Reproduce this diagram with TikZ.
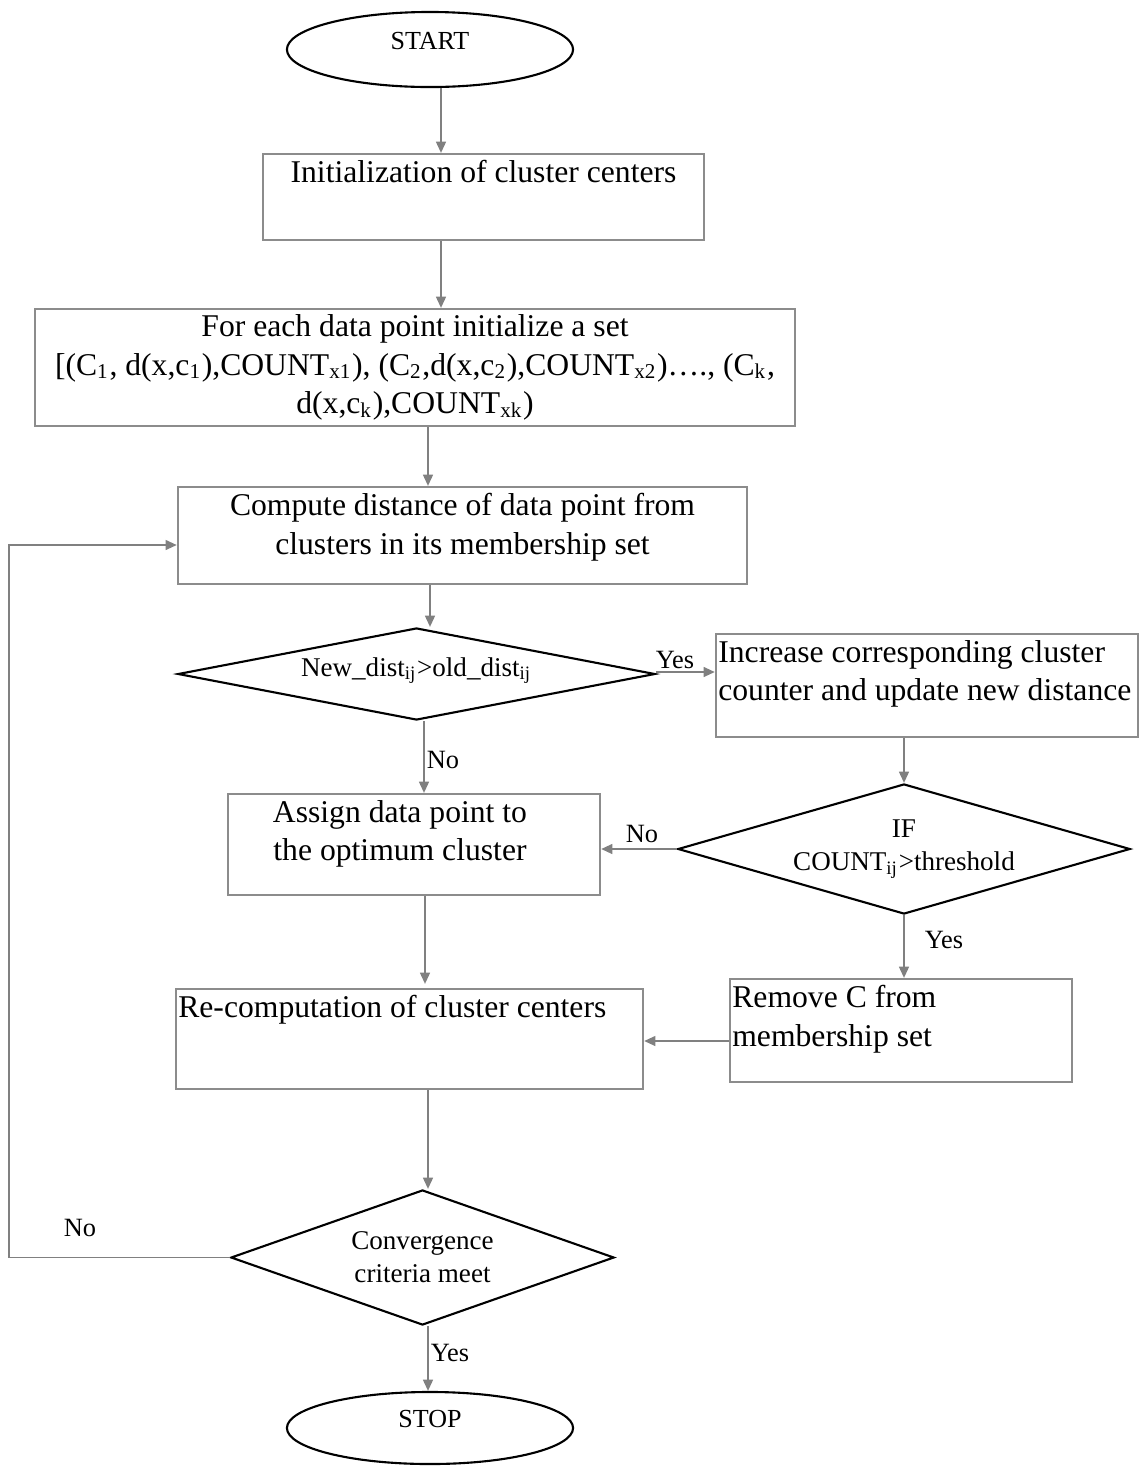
\documentclass[tikz,border=0pt]{standalone}
\usepackage{fontspec}
\setmainfont{Liberation Serif}
\usetikzlibrary{shapes.geometric,arrows.meta}
\begin{document}
\begin{tikzpicture}[x=0.01cm,y=-0.01cm,
    >={Triangle[length=3.2pt,width=2.8pt]},
    flow/.style={->,draw=black!50,line width=0.55pt},
    procbox/.style={rectangle,draw=black!45,line width=0.6pt,inner sep=0pt},
    term/.style={ellipse,draw=black,line width=0.6pt,inner sep=0pt,
        font=\fontsize{7.4}{9}\selectfont},
    decide/.style={diamond,draw=black,line width=0.6pt,inner sep=0pt,align=center,
        font=\fontsize{7.7}{9.4}\selectfont},
    txt/.style={font=\fontsize{9}{10.9}\selectfont,align=center,inner sep=2pt},
    lefttxt/.style={font=\fontsize{9}{10.9}\selectfont,align=left,inner xsep=0.8pt,inner ysep=2pt},
    lbl/.style={font=\fontsize{7.5}{9}\selectfont,inner sep=0pt}]
    % Page frame
    \useasboundingbox (0,0) rectangle (1139,1466);
    % Terminals
    \node[term,minimum width=2.86cm,minimum height=0.75cm,text depth=5pt] (start) at (430,49.5) {START};
    \node[term,minimum width=2.86cm,minimum height=0.72cm,text depth=5pt] (stop) at (430,1428) {STOP};
    % Process boxes
    \node[procbox,minimum width=4.41cm,minimum height=0.86cm,
        label={[txt,anchor=north]north:{Initialization of cluster centers}}] (init) at (483.5,197) {};
    \node[procbox,txt,inner sep=0pt,minimum width=7.6cm,minimum height=1.17cm] (memset) at (415,367.5)
        {For each data point initialize a set\\
        {[}(C\textsubscript{1}, d(x,c\textsubscript{1}),COUNT\textsubscript{x1}), (C\textsubscript{2},d(x,c\textsubscript{2}),COUNT\textsubscript{x2})…., (C\textsubscript{k},\\
        d(x,c\textsubscript{k}),COUNT\textsubscript{xk})};
    \node[procbox,minimum width=5.69cm,minimum height=0.97cm,
        label={[txt,anchor=north]north:{Compute distance of data point from\\clusters in its membership set}}] (dist) at (462.5,535.5) {};
    \node[procbox,minimum width=4.22cm,minimum height=1.03cm,
        label={[lefttxt,anchor=north west]north west:{Increase corresponding cluster\\counter and update new distance}}] (incr) at (927,685.5) {};
    \node[procbox,minimum width=3.72cm,minimum height=1.01cm,
        label={[txt,anchor=north,xshift=-0.14cm]north:{Assign data point to\\the optimum cluster}}] (assign) at (414,844.5) {};
    \node[procbox,minimum width=3.42cm,minimum height=1.03cm,
        label={[lefttxt,anchor=north west]north west:{Remove C from\\membership set}}] (remove) at (901,1030.5) {};
    \node[procbox,minimum width=4.67cm,minimum height=1.0cm,
        label={[lefttxt,anchor=north west]north west:{Re-computation of cluster centers}}] (recomp) at (409.5,1039) {};
    % Decisions
    \node[decide,aspect=5.18,minimum width=4.77cm,minimum height=0.92cm,text depth=4pt] (newdist) at (416.5,674)
        {New\_dist\textsubscript{ij}>old\_dist\textsubscript{ij}};
    \node[decide,aspect=3.48,minimum width=4.52cm,minimum height=1.30cm] (thresh) at (904,849)
        {IF\\COUNT\textsubscript{ij}>threshold};
    \node[decide,aspect=2.84,minimum width=3.83cm,minimum height=1.35cm] (converge) at (422.5,1257.5)
        {Convergence\\criteria meet};
    % Connectors
    \draw[flow] ([shift={(11,0)}]start.south) -- ([shift={(11,0)}]start.south |- init.north);
    \draw[flow] ([shift={(-42.5,0)}]init.south) -- ([shift={(-42.5,0)}]init.south |- memset.north);
    \draw[flow] ([shift={(13,0)}]memset.south) -- ([shift={(13,0)}]memset.south |- dist.north);
    \draw[flow] ([shift={(-32.5,0)}]dist.south) -- ([shift={(-32.5,0)}]dist.south |- newdist.north);
    \draw[flow] ([shift={(0,-2)}]newdist.east) -- ([shift={(0,-2)}]newdist.east -| incr.west);
    \draw[flow] ([shift={(7.5,0)}]newdist.south) -- ([shift={(7.5,0)}]newdist.south |- assign.north);
    \draw[flow] (incr.south -| thresh.north) -- (thresh.north);
    \draw[flow] (thresh.west) -- (thresh.west -| assign.east);
    \draw[flow] (thresh.south) -- (thresh.south |- remove.north);
    \draw[flow] ([shift={(11,0)}]assign.south) -- ([shift={(11,-4)}]assign.south |- recomp.north);
    \draw[flow] ([shift={(0,10.5)}]remove.west) -- ([shift={(0,10.5)}]remove.west -| recomp.east);
    \draw[flow] ([shift={(18.5,0)}]recomp.south) -- ([shift={(18.5,0)}]recomp.south |- converge.north);
    \draw[flow] (converge.west) -- ++(-221,0) |- ([shift={(0,9.5)}]dist.west);
    \draw[flow] ([shift={(5.5,0)}]converge.south) -- ([shift={(5.5,0)}]converge.south |- stop.north);
    % Branch labels
    \node[lbl] (yesA) at (675,660) {Yes};
    \node[lbl] (noA) at (443,760) {No};
    \node[lbl] (noB) at (642,834) {No};
    \node[lbl] (yesB) at (944,940) {Yes};
    \node[lbl] (noC) at (80,1228) {No};
    \node[lbl] (yesC) at (450,1353) {Yes};
\end{tikzpicture}
\end{document}
